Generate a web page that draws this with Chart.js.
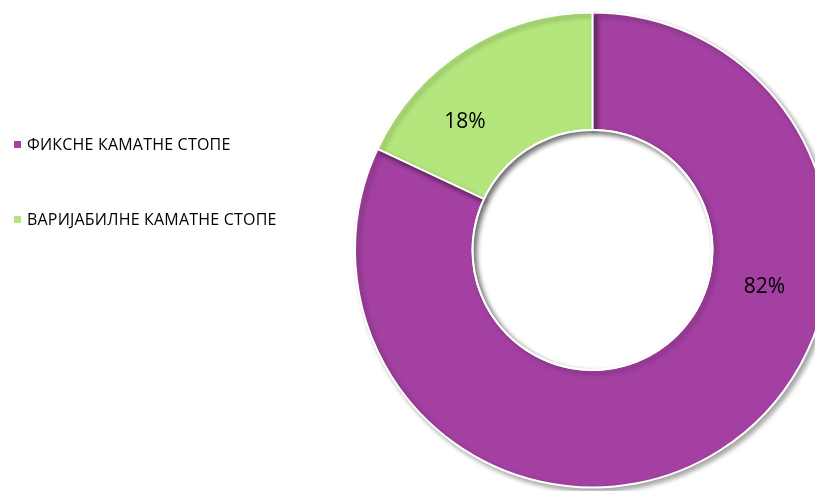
<!DOCTYPE html>
<html lang="sr">
<head>
<meta charset="UTF-8">
<title>Камате стопе</title>
<script src="https://cdn.jsdelivr.net/npm/chart.js"></script>
<style>
  html, body { margin: 0; padding: 0; background: #fff; overflow: hidden; }
  #wrap { position: relative; width: 815px; height: 491px; overflow: hidden; }
  #wrap canvas { position: absolute; left: 0; top: 0; }
</style>
</head>
<body>
<div id="wrap"><canvas id="rateChart" width="1000" height="491"></canvas></div>
<script>
  // data
  const labels = ['ФИКСНЕ КАМАТНЕ СТОПЕ', 'ВАРИЈАБИЛНЕ КАМАТНЕ СТОПЕ'];
  const shares = [82, 18];
  const colors = ['#A340A1', '#B4E67D'];

  // where the % labels sit inside each slice (angle in degrees from 3 o'clock, radius as fraction)
  const labelSpots = [{ angle: 12, r: 0.74 }, { angle: 225, r: 0.76 }];

  const FONT = '"Open Sans", "Liberation Sans", sans-serif';

  // soft shadow under the ring + inner shadow in the hole
  const shadowPlugin = {
    id: 'ringShadow',
    beforeDatasetsDraw(chart) {
      const ctx = chart.ctx;
      ctx.save();
      ctx.shadowColor = 'rgba(0,0,0,0.35)';
      ctx.shadowBlur = 5;
      ctx.shadowOffsetX = 3;
      ctx.shadowOffsetY = 3;
    },
    afterDatasetsDraw(chart) {
      const ctx = chart.ctx;
      ctx.restore();
      const arc = chart.getDatasetMeta(0).data[0];
      const cx = arc.x, cy = arc.y, ir = arc.innerRadius;
      ctx.save();
      ctx.beginPath();
      ctx.arc(cx, cy, ir, 0, Math.PI * 2);
      ctx.clip();
      ctx.beginPath();
      ctx.rect(cx - ir - 50, cy - ir - 50, ir * 2 + 100, ir * 2 + 100);
      ctx.arc(cx, cy, ir + 1, 0, Math.PI * 2, true);
      ctx.shadowColor = 'rgba(0,0,0,0.45)';
      ctx.shadowBlur = 7;
      ctx.shadowOffsetX = 3;
      ctx.shadowOffsetY = 3;
      ctx.fillStyle = '#fff';
      ctx.fill('evenodd');
      ctx.restore();
      // thin white rim around the hole
      ctx.save();
      ctx.beginPath();
      ctx.arc(cx, cy, ir, 0, Math.PI * 2);
      ctx.strokeStyle = '#fff';
      ctx.lineWidth = 2;
      ctx.stroke();
      ctx.restore();
    }
  };

  const valueLabels = {
    id: 'valueLabels',
    afterDraw(chart) {
      const ctx = chart.ctx;
      const meta = chart.getDatasetMeta(0);
      ctx.save();
      ctx.font = '21px ' + FONT;
      ctx.fillStyle = '#000';
      ctx.textAlign = 'center';
      ctx.textBaseline = 'middle';
      meta.data.forEach((arc, i) => {
        const spot = labelSpots[i];
        const a = spot.angle * Math.PI / 180;
        const r = arc.outerRadius * spot.r;
        ctx.fillText(shares[i] + '%', arc.x + Math.cos(a) * r, arc.y + Math.sin(a) * r);
      });
      ctx.restore();
    }
  };

  const sideLegend = {
    id: 'sideLegend',
    afterDraw(chart) {
      const ctx = chart.ctx;
      ctx.save();
      ctx.font = '16px ' + FONT;
      ctx.letterSpacing = '0.2px';
      ctx.textBaseline = 'middle';
      labels.forEach((t, i) => {
        const y = 145 + i * 75;
        ctx.fillStyle = colors[i];
        ctx.fillRect(14, y - 4, 7, 7);
        ctx.fillStyle = '#000';
        ctx.fillText(t, 27, y);
      });
      ctx.restore();
    }
  };

  new Chart(document.getElementById('rateChart'), {
    type: 'doughnut',
    data: {
      labels: labels,
      datasets: [{
        data: shares,
        backgroundColor: colors,
        borderColor: '#fff',
        borderWidth: 2
      }]
    },
    options: {
      responsive: false,
      animation: false,
      cutout: '50.5%',
      layout: { padding: { left: 354, right: 169, top: 11, bottom: 2 } },
      plugins: {
        legend: { display: false },
        tooltip: { enabled: false }
      }
    },
    plugins: [shadowPlugin, valueLabels, sideLegend]
  });
</script>
</body>
</html>
